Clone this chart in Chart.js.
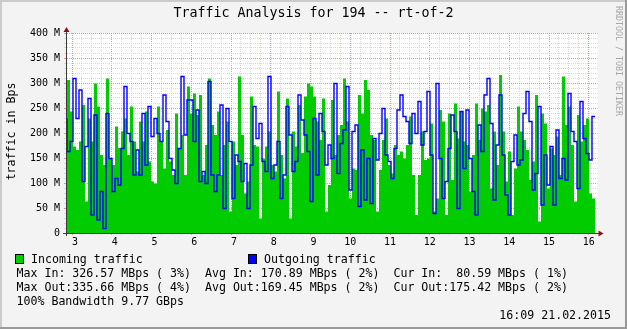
<!DOCTYPE html>
<html>
<head>
<meta charset="utf-8">
<script src="https://cdn.jsdelivr.net/npm/chart.js@4.4.0/dist/chart.umd.min.js"></script>
<style>
  html, body { margin: 0; padding: 0; background: #f3f3f3; }
  canvas { display: block; }
</style>
</head>
<body>
<canvas id="chart" width="627" height="329"></canvas>
<script>
// ── Data (one sample every ~1.8 h) ────────────────────────────────────────────
const SAMPLE_START = 2.874;        // day of month of first sample
const SAMPLE_STEP = 3 / 39.75;     // days between samples

// Incoming traffic, MBps
const incoming = [
  156, 306, 243, 173, 166, 183, 256, 63, 229, 183, 299, 253, 156, 136, 309, 149, 136, 213, 170, 203, 229, 156, 253, 183, 123, 223, 183, 243, 143, 103,
  99, 253, 183, 129, 206, 143, 116, 239, 169, 196, 116, 293, 239, 279, 236, 276, 116, 176, 309, 216, 196, 243, 116, 176, 223, 43, 183, 136, 313, 196,
  79, 103, 273, 176, 173, 29, 149, 173, 203, 136, 123, 283, 156, 109, 269, 29, 203, 173, 256, 160, 273, 299, 293, 273, 223, 186, 269, 43, 96, 266,
  156, 196, 216, 309, 223, 69, 129, 126, 276, 239, 306, 286, 196, 186, 43, 126, 186, 229, 136, 119, 176, 156, 163, 149, 176, 233, 116, 36, 116, 203,
  146, 149, 219, 43, 69, 246, 223, 36, 239, 106, 259, 189, 243, 183, 176, 83, 156, 259, 186, 249, 243, 256, 89, 203, 136, 316, 203, 103, 163, 36,
  129, 253, 203, 186, 166, 106, 143, 276, 23, 239, 219, 89, 169, 156, 193, 116, 313, 216, 253, 176, 63, 236, 183, 216, 229, 79, 69
];

// Outgoing traffic, MBps
const outgoing = [
  229, 163, 183, 309, 229, 286, 103, 173, 269, 36, 236, 26, 83, 9, 239, 149, 83, 109, 96, 169, 293, 199, 183, 116, 166, 116, 239, 136, 253, 193,
  229, 199, 183, 276, 223, 149, 126, 99, 169, 313, 196, 266, 266, 183, 246, 103, 123, 99, 303, 116, 83, 116, 256, 49, 249, 183, 69, 156, 143, 103,
  139, 49, 136, 253, 189, 219, 143, 123, 313, 109, 136, 183, 69, 116, 253, 196, 123, 143, 276, 226, 196, 163, 63, 229, 116, 239, 203, 136, 176, 149,
  299, 119, 179, 206, 293, 86, 203, 216, 53, 166, 66, 149, 59, 189, 146, 199, 249, 156, 143, 109, 169, 246, 276, 233, 223, 179, 239, 199, 263, 176,
  203, 283, 156, 39, 299, 149, 69, 103, 169, 236, 203, 49, 243, 129, 246, 149, 83, 36, 216, 163, 276, 309, 219, 66, 176, 276, 156, 76, 36, 143,
  196, 136, 146, 239, 283, 223, 86, 119, 253, 56, 156, 96, 173, 56, 206, 109, 149, 106, 279, 203, 183, 89, 263, 189, 159, 146, 233
];

const X_MIN = 2.874, X_MAX = 16.22;   // visible day range
const Y_MIN = 0, Y_MAX = 400;         // MBps

// ── Texts ─────────────────────────────────────────────────────────────────────
const TITLE = "Traffic Analysis for 194 -- rt-of-2";
const Y_TITLE = "traffic in Bps";
const WATERMARK = "RRDTOOL / TOBI OETIKER";
const LEGEND = [
  { label: "Incoming traffic", color: "#00cc00" },
  { label: "Outgoing traffic", color: "#0000ff" },
];
const STAT_LINES = [
  "Max In: 326.57 MBps ( 3%)  Avg In: 170.89 MBps ( 2%)  Cur In:  80.59 MBps ( 1%)",
  "Max Out:335.66 MBps ( 4%)  Avg Out:169.45 MBps ( 2%)  Cur Out:175.42 MBps ( 2%)",
  "100% Bandwidth 9.77 GBps",
];
const TIMESTAMP = "16:09 21.02.2015";

// ── Helpers ───────────────────────────────────────────────────────────────────
const toPoints = vals => vals.map((v, i) => ({ x: SAMPLE_START + i * SAMPLE_STEP, y: v }));
const MONO = '"DejaVu Sans Mono", monospace';
const MAJOR = "rgba(230,120,120,0.8)";
const MINOR = "#d8d8d8";

// Background, frame, axes with arrows, and all the rrdtool-style texts
const rrdChrome = {
  id: "rrdChrome",
  beforeDraw(chart) {
    const { ctx, width, height, chartArea: a } = chart;
    ctx.save();
    ctx.fillStyle = "#f3f3f3";
    ctx.fillRect(0, 0, width, height);
    ctx.fillStyle = "#cbcbcb";
    ctx.fillRect(0, 0, width, 2);
    ctx.fillRect(0, 0, 2, height);
    ctx.fillStyle = "#9a9a9a";
    ctx.fillRect(0, height - 2, width, 2);
    ctx.fillRect(width - 2, 0, 2, height);
    ctx.fillStyle = "#ffffff";
    ctx.fillRect(a.left, a.top, a.right - a.left, a.bottom - a.top);
    ctx.restore();
  },
  afterDatasetsDraw(chart) {
    const { ctx, chartArea: a } = chart;
    ctx.save();
    ctx.strokeStyle = "#3a3a3a";
    ctx.lineWidth = 1;
    ctx.beginPath();
    ctx.moveTo(a.left - 0.5, a.bottom + 3);
    ctx.lineTo(a.left - 0.5, a.top - 4);
    ctx.moveTo(a.left - 4, a.bottom + 0.5);
    ctx.lineTo(a.right + 3, a.bottom + 0.5);
    ctx.stroke();
    ctx.fillStyle = "#8b1010";
    ctx.beginPath();               // up arrow
    ctx.moveTo(a.left - 0.5, a.top - 6);
    ctx.lineTo(a.left - 3.5, a.top - 1);
    ctx.lineTo(a.left + 2.5, a.top - 1);
    ctx.fill();
    ctx.beginPath();               // right arrow
    ctx.moveTo(a.right + 6, a.bottom + 0.5);
    ctx.lineTo(a.right + 1, a.bottom - 2.5);
    ctx.lineTo(a.right + 1, a.bottom + 3.5);
    ctx.fill();
    ctx.restore();
  },
  afterDraw(chart) {
    const { ctx, width } = chart;
    ctx.save();
    ctx.fillStyle = "#000";
    ctx.textBaseline = "middle";

    ctx.font = `13.3px ${MONO}`;
    ctx.textAlign = "center";
    ctx.fillText(TITLE, width / 2, 13.5);

    ctx.font = `11.6px ${MONO}`;
    ctx.save();
    ctx.translate(11.5, 131.5);
    ctx.rotate(-Math.PI / 2);
    ctx.fillText(Y_TITLE, 0, 0);
    ctx.restore();

    ctx.save();
    ctx.font = `8.3px ${MONO}`;
    ctx.fillStyle = "#a6a6a6";
    ctx.textAlign = "left";
    ctx.translate(618, 6);
    ctx.rotate(Math.PI / 2);
    ctx.fillText(WATERMARK, 0, 0);
    ctx.restore();

    // legend row
    ctx.textAlign = "left";
    const legendX = [15, 248];
    LEGEND.forEach((item, i) => {
      const x = legendX[i];
      ctx.fillStyle = item.color;
      ctx.fillRect(x, 254, 9, 10);
      ctx.strokeStyle = "#000";
      ctx.lineWidth = 1;
      ctx.strokeRect(x + 0.5, 254.5, 8, 9);
      ctx.fillStyle = "#000";
      ctx.fillText(item.label, x + 16, 259.5);
    });

    STAT_LINES.forEach((line, i) => {
      ctx.fillText(line, 16.5, 273.5 + i * 14.2);
    });

    ctx.textAlign = "right";
    ctx.fillText(TIMESTAMP, 611, 315.5);
    ctx.restore();
  }
};

Chart.defaults.font.family = MONO;
Chart.defaults.color = "#000";

new Chart(document.getElementById("chart"), {
  type: "line",
  data: {
    datasets: [
      {
        label: LEGEND[1].label,
        data: toPoints(outgoing),
        borderColor: "#0000ff",
        borderWidth: 1.4,
        stepped: "after",
        fill: false,
        pointRadius: 0,
        order: 0,
      },
      {
        label: LEGEND[0].label,
        data: toPoints(incoming),
        backgroundColor: "#00cc00",
        borderWidth: 0,
        stepped: "after",
        fill: "origin",
        pointRadius: 0,
        order: 1,
      },
    ],
  },
  options: {
    responsive: false,
    animation: false,
    events: [],
    layout: { padding: { left: 0, top: 33, right: 29.5, bottom: 76 } },
    plugins: { legend: { display: false }, tooltip: { enabled: false }, title: { display: false } },
    scales: {
      x: {
        type: "linear",
        min: X_MIN,
        max: X_MAX,
        afterFit: s => { s.height = 20; },
        afterBuildTicks: s => {
          const ticks = [];
          for (let k = Math.ceil(s.min * 4); k <= Math.floor(s.max * 4); k++) ticks.push({ value: k / 4 });
          s.ticks = ticks;
        },
        ticks: {
          autoSkip: false,
          maxRotation: 0,
          padding: 1.5,
          font: { size: 10 },
          callback: v => Number.isInteger(v) ? (v < 10 ? " " + v : String(v)) : "",
        },
        grid: {
          color: c => Number.isInteger(c.tick.value) ? MAJOR : MINOR,
          tickLength: 2,
          lineWidth: 1,
        },
        border: { display: false, dash: [1, 1] },
      },
      y: {
        min: Y_MIN,
        max: Y_MAX,
        afterFit: s => { s.width = 67; },
        ticks: {
          stepSize: 10,
          autoSkip: false,
          padding: 4,
          font: { size: 10 },
          callback: v => v === 0 ? "0" : (v % 50 === 0 ? v + " M" : ""),
        },
        grid: {
          color: c => c.tick.value % 50 === 0 ? MAJOR : MINOR,
          tickLength: 3,
          lineWidth: 1,
        },
        border: { display: false, dash: [1, 1] },
      },
    },
  },
  plugins: [rrdChrome],
});
</script>
</body>
</html>
